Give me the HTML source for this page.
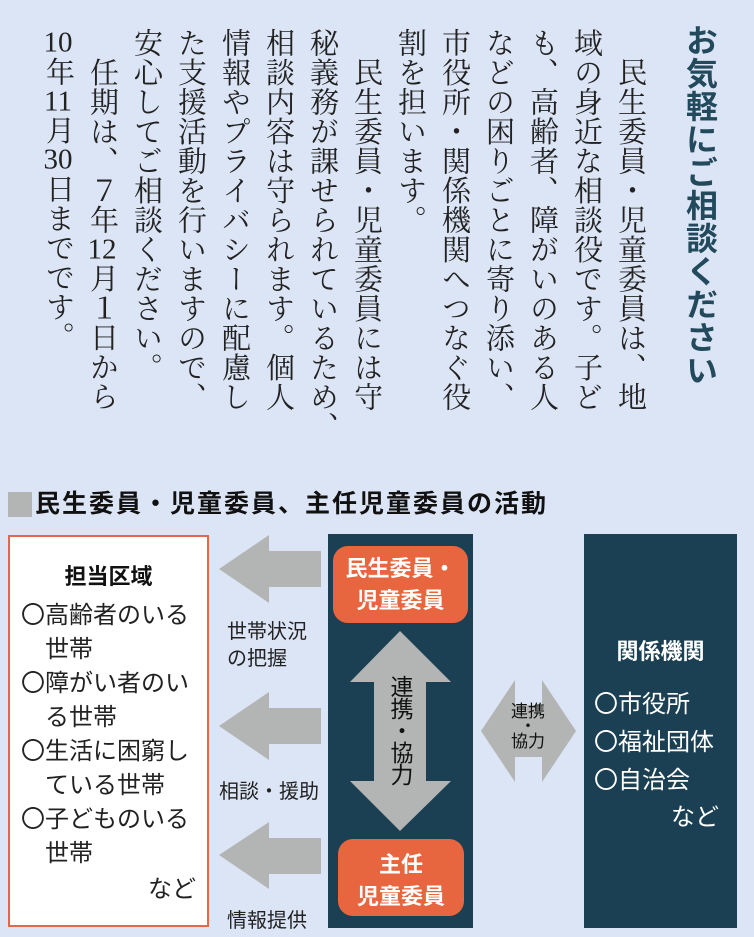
<!DOCTYPE html>
<html><head><meta charset="utf-8"><style>
html,body{margin:0;padding:0}
body{width:754px;height:937px;background:#dce5f5;position:relative;overflow:hidden;font-family:"Liberation Sans","Noto Sans CJK JP",sans-serif}
.a{position:absolute}
.body{position:absolute;right:102px;top:28px;writing-mode:vertical-rl;font-family:"Liberation Serif","Noto Serif CJK JP",serif;font-size:29px;line-height:44px;color:#222;white-space:nowrap;letter-spacing:0.5px}
.tcy{text-combine-upright:all}
.title{position:absolute;left:683px;top:24px;writing-mode:vertical-rl;font-size:32px;font-weight:bold;color:#234a5c;letter-spacing:1px;line-height:34px}
.l{font-size:24px;line-height:34px;color:#222;white-space:nowrap;font-family:"Noto Sans CJK JP",sans-serif}
.w{color:#fff}
</style></head><body>
<div class="title">お気軽にご相談ください</div>
<div class="body">　民生委員・児童委員は、地<br>域の身近な相談役です。子ど<br>も、高齢者、障がいのある人<br>などの困りごとに寄り添い、<br>市役所・関係機関へつなぐ役<br>割を担います。<br>　民生委員・児童委員には守<br>秘義務が課せられているため、<br>相談内容は守られます。個人<br>情報やプライバシーに配慮し<br>た支援活動を行いますので、<br>安心してご相談ください。<br>　任期は、７年<span class="tcy">12</span>月１日から<br><span class="tcy">10</span>年<span class="tcy">11</span>月<span class="tcy">30</span>日までです。</div>

<div class="a" style="left:8px;top:492px;width:24px;height:25px;background:#b3b5b5"></div>
<div class="a" style="left:35px;top:489px;font-size:25px;font-weight:bold;color:#111;letter-spacing:2px;white-space:nowrap;line-height:30px">民生委員・児童委員、主任児童委員の活動</div>

<div class="a" style="left:8px;top:535px;width:197px;height:388px;background:#fff;border:2px solid #e8644a"></div>
<div class="a" style="left:10px;top:559px;width:197px;text-align:center;font-size:22px;font-weight:bold;color:#111">担当区域</div>
<div class="a l" style="left:21px;top:596px">〇高齢者のいる<br>　世帯<br>〇障がい者のい<br>　る世帯<br>〇生活に困窮し<br>　ている世帯<br>〇子どものいる<br>　世帯</div>
<div class="a l" style="left:148px;top:870px">など</div>

<svg class="a" style="left:0;top:0" width="754" height="937">
<g fill="#b3b5b5">
<polygon points="219,569 269,535 269,551 321,551 321,587 269,587 269,603"/>
<polygon points="219,726 269,692 269,708 321,708 321,744 269,744 269,760"/>
<polygon points="219,855 269,822 269,838 321,838 321,874 269,874 269,889"/>
</g>
<rect x="328" y="534" width="145" height="394" fill="#1c4053"/>
<rect x="584" y="534" width="153" height="394" fill="#1c4053"/>
<rect x="333" y="546" width="135" height="77" rx="15" fill="#e8663f"/>
<rect x="338" y="839" width="126" height="77" rx="15" fill="#e8663f"/>
<polygon fill="#b3b5b5" points="400,631 451,682 426,682 426,781 451,781 400,831 350,781 374,781 374,682 350,682"/>
<polygon fill="#b3b5b5" points="481,731 515,680 515,705 542,705 542,680 576,731 542,782 542,757 515,757 515,782"/>
</svg>

<div class="a" style="left:227px;top:619px;font-size:20px;line-height:27px;color:#222">世帯状況<br>の把握</div>
<div class="a" style="left:219px;top:775px;font-size:20px;color:#222;white-space:nowrap">相談・援助</div>
<div class="a" style="left:227px;top:904px;font-size:20px;color:#222">情報提供</div>

<div class="a w" style="left:333px;top:553px;width:135px;text-align:center;font-size:22px;font-weight:bold;line-height:32px">民生委員・<br>児童委員</div>
<div class="a w" style="left:338px;top:849px;width:126px;text-align:center;font-size:22px;font-weight:bold;line-height:32px">主任<br>児童委員</div>

<div class="a" style="left:386px;top:675px;writing-mode:vertical-rl;font-size:23px;line-height:28px;color:#111;letter-spacing:-1px">連携・協力</div>
<div class="a" style="left:505px;top:704px;width:46px;text-align:center;font-size:17px;line-height:15px;color:#111">連携<br>・<br>協力</div>

<div class="a w" style="left:584px;top:634px;width:153px;text-align:center;font-size:22px;font-weight:bold">関係機関</div>
<div class="a l w" style="left:594px;top:683px;line-height:38px">〇市役所<br>〇福祉団体<br>〇自治会</div>
<div class="a l w" style="left:671px;top:798px">など</div>
</body></html>
